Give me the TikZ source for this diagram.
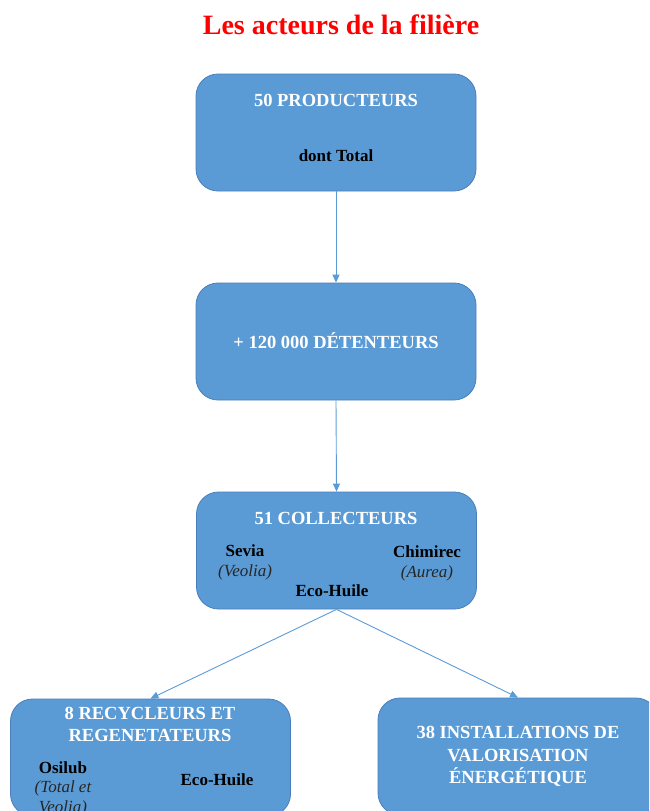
\documentclass[tikz,border=0pt]{standalone}
\usepackage{fontspec}
\setmainfont{Liberation Serif}
\usetikzlibrary{arrows.meta}
\definecolor{boxfill}{HTML}{5B9BD5}
\definecolor{boxline}{HTML}{4A7EBB}
\definecolor{titlered}{HTML}{FF0000}
\tikzset{
  actor/.style={draw=boxline, line width=0.8pt, fill=boxfill, rounded corners=22pt,
    minimum width=280pt, minimum height=117pt, inner sep=0pt},
  head/.style={text=white, font=\bfseries\fontsize{18.5}{22.5}\selectfont, align=center, inner sep=0pt},
  sub/.style={text=black, font=\bfseries\fontsize{17}{20}\selectfont, align=center, inner sep=0pt},
  subit/.style={text=black!85, font=\itshape\fontsize{17}{20}\selectfont, align=center, inner sep=0pt},
  flow/.style={draw=boxfill, line width=0.9pt, -{Triangle[width=7pt,length=8pt]}},
}
\begin{document}
\begin{tikzpicture}[x=1pt,y=-1pt]
\useasboundingbox (0,0) rectangle (649,811);
\clip (0,0) rectangle (649,811);
\node[text=titlered, font=\bfseries\fontsize{28}{32}\selectfont, inner sep=0pt] (title) at (341,25) {Les acteurs de la filière};

\node[actor] (prod) at (336,132.5) {};
\node[actor] (det) at (336,341.5) {};
\node[actor] (coll) at (336.5,550.5) {};
\node[actor] (recy) at (150.5,757.5) {};
\node[actor] (valo) at (518,756.5) {};

\node[head] (prodt) at (336,100) {50 PRODUCTEURS};
\node[sub] (prods) at (336,156) {dont Total};
\node[head] (dett) at (336,341) {+ 120 000 DÉTENTEURS};
\node[head] (collt) at (336,518) {51 COLLECTEURS};
\node[sub] (sevia) at (245,551) {Sevia};
\node[subit] (veolia) at (245,572) {(Veolia)};
\node[sub] (chim) at (427,552) {Chimirec};
\node[subit] (aurea) at (427,573) {(Aurea)};
\node[sub] (ecoa) at (332,591) {Eco-Huile};

\node[head] (recyt) at (150,724.5) {8 RECYCLEURS ET\\REGENETATEURS};
\node[sub] (osil) at (63,768) {Osilub};
\node[subit] (osilb) at (63,798.5) {(Total et\\Veolia)};
\node[sub] (ecob) at (217,780) {Eco-Huile};

\node[head] (valot) at (518,756.5) {38 INSTALLATIONS DE\\VALORISATION\\ÉNERGÉTIQUE};

\draw[flow] (prod.south) -- (det.north);
\draw[flow] (det.south) -- (coll.north);
\draw[flow] (coll.south) -- (recy.north);
\draw[flow] (coll.south) -- (valo.north);
\end{tikzpicture}
\end{document}
